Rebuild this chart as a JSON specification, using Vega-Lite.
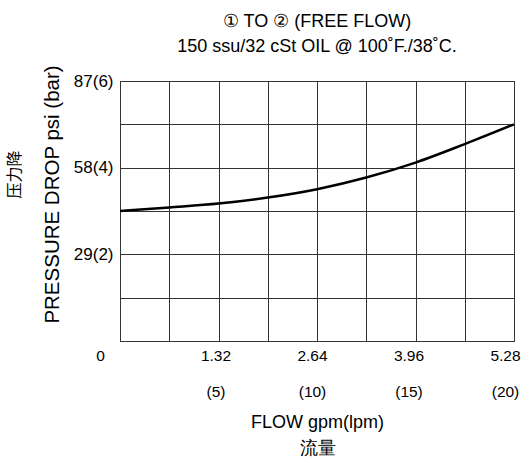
{
  "$schema": "https://vega.github.io/schema/vega-lite/v6.json",
  "width": 394,
  "height": 260,
  "padding": {"left": 6, "top": 12, "right": 6, "bottom": 2},
  "background": "white",
  "config": {
    "font": "Liberation Sans",
    "view": {"stroke": "#222", "strokeWidth": 1}
  },
  "title": {
    "text": "\u2002\u2002\u2002① TO ② (FREE FLOW)",
    "subtitle": "150 ssu/32 cSt OIL @ 100˚F./38˚C.",
    "fontSize": 18,
    "subtitleFontSize": 18,
    "fontWeight": "normal",
    "color": "black",
    "subtitleColor": "black",
    "anchor": "middle",
    "offset": 9,
    "subtitlePadding": 7
  },
  "data": {
    "values": [
      {"flow": 0, "psi": 43.5},
      {"flow": 0.66, "psi": 44.7},
      {"flow": 1.32, "psi": 46.0},
      {"flow": 1.98, "psi": 48.0},
      {"flow": 2.64, "psi": 50.8},
      {"flow": 3.3, "psi": 54.7},
      {"flow": 3.96, "psi": 59.7},
      {"flow": 4.62, "psi": 65.9},
      {"flow": 5.28, "psi": 72.5}
    ]
  },
  "layer": [
    {
      "mark": {"type": "line", "interpolate": "monotone", "color": "black", "strokeWidth": 2.5},
      "encoding": {
        "x": {
          "field": "flow",
          "type": "quantitative",
          "scale": {"domain": [0, 5.28], "nice": false, "zero": true},
          "axis": {
            "values": [0, 0.66, 1.32, 1.98, 2.64, 3.3, 3.96, 4.62, 5.28],
            "labelExpr": "datum.value == 0 ? '0' : datum.value == 1.32 ? ['1.32', '(5)'] : datum.value == 2.64 ? ['2.64', '(10)'] : datum.value == 3.96 ? ['3.96', '(15)'] : datum.value == 5.28 ? ['5.28', '(20)'] : ''",
            "labelOffset": {"condition": [
              {"test": "datum.value == 0", "value": -20},
              {"test": "datum.value == 1.32", "value": -3},
              {"test": "datum.value == 2.64", "value": -5},
              {"test": "datum.value == 3.96", "value": -7}
            ], "value": -9},
            "labelFlush": false,
            "labelOverlap": false,
            "labelBound": false,
            "labelFontSize": 15.5,
            "labelColor": "black",
            "labelLineHeight": 36,
            "labelPadding": 7,
            "ticks": false,
            "domain": false,
            "grid": true,
            "gridColor": "#333",
            "gridOpacity": 1,
            "gridWidth": 1,
            "title": ["FLOW gpm(lpm)", "流量"],
            "titleFontSize": 18,
            "titleFontWeight": "normal",
            "titleColor": "black",
            "titleLineHeight": 26,
            "titlePadding": 14
          }
        },
        "y": {
          "field": "psi",
          "type": "quantitative",
          "scale": {"domain": [0, 87], "nice": false},
          "axis": {
            "values": [0, 14.5, 29, 43.5, 58, 72.5, 87],
            "labelExpr": "datum.value == 29 ? '29(2)' : datum.value == 58 ? '58(4)' : datum.value == 87 ? '87(6)' : ''",
            "labelFlush": false,
            "labelOverlap": false,
            "labelBound": false,
            "labelFontSize": 17,
            "labelColor": "black",
            "labelPadding": 7,
            "ticks": false,
            "domain": false,
            "grid": true,
            "gridColor": "#333",
            "gridOpacity": 1,
            "gridWidth": 1,
            "title": "PRESSURE DROP psi (bar)",
            "titleFontSize": 20.5,
            "titleFontWeight": "normal",
            "titleColor": "black",
            "titlePadding": 11,
            "titleY": 113
          }
        }
      }
    },
    {
      "mark": {"type": "line", "opacity": 0},
      "encoding": {
        "x": {"field": "flow", "type": "quantitative"},
        "y": {
          "field": "psi",
          "type": "quantitative",
          "axis": {
            "orient": "left",
            "labels": false,
            "ticks": false,
            "domain": false,
            "grid": false,
            "title": "压力降",
            "titleFont": "Noto Sans CJK SC",
            "titleFontSize": 16,
            "titleFontWeight": "normal",
            "titleColor": "black",
            "titlePadding": 98,
            "titleY": 93
          }
        }
      }
    }
  ],
  "resolve": {"axis": {"y": "independent"}}
}
